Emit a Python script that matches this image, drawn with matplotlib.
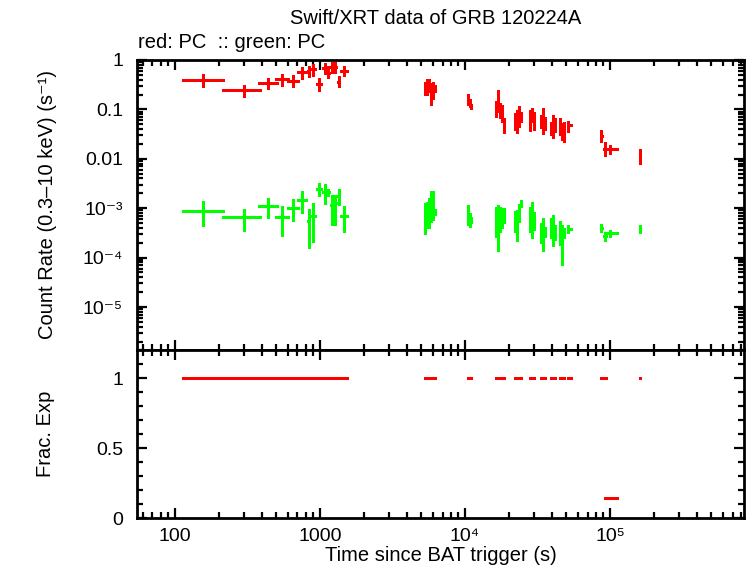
import numpy as np
import matplotlib
matplotlib.use("Agg")
import matplotlib.pyplot as plt
from matplotlib.ticker import LogLocator, FuncFormatter, MultipleLocator, NullFormatter

plt.rcParams['font.family'] = ['Liberation Sans', 'DejaVu Sans']

# time bins (s): centre, start, stop
t_mid = [155, 300, 440, 550, 651, 755, 835, 895, 989, 1083, 1135, 1204, 1268, 1345, 1465,
         5273, 5444, 5621, 5802, 5989, 6181,
         10430, 10750, 11070,
         16360, 16890, 17440, 18000, 18580,
         22230, 22950, 23690, 24460,
         28070, 28980, 29910,
         33430, 34510, 35620,
         39180, 40600, 42100,
         45200, 46700, 48200,
         51730,
         87400, 92800, 100000, 162300]
t_start = [112, 210, 375, 492, 595, 697, 810, 860, 940, 1040, 1110, 1170, 1235, 1305, 1380,
           5190, 5358, 5532, 5711, 5895, 6084,
           10270, 10600, 10910,
           16100, 16620, 17160, 17720, 18290,
           21880, 22590, 23320, 24070,
           27630, 28520, 29440,
           32900, 33960, 35060,
           38570, 39810, 41420,
           44490, 45920, 47410,
           50510,
           85310, 90200, 91650, 159700]
t_stop = [217, 390, 511, 608, 720, 810, 860, 940, 1040, 1110, 1170, 1235, 1305, 1380, 1560,
          5358, 5532, 5711, 5895, 6084, 6280,
          10600, 10910, 11230,
          16620, 17160, 17720, 18290, 18880,
          22590, 23320, 24070, 24850,
          28520, 29440, 30390,
          33960, 35060, 36190,
          39810, 41420, 42760,
          45920, 47410, 48940,
          54430,
          89470, 95350, 113000, 164900]

# count rates (s^-1), red PC
red_rate = [0.389, 0.244, 0.338, 0.408, 0.382, 0.565, 0.608, 0.649, 0.323, 0.680, 0.539, 0.732, 0.712, 0.365, 0.608,
            0.272, 0.299, 0.327, 0.248, 0.272, 0.272,
            0.163, 0.135, 0.118,
            0.107, 0.155, 0.098, 0.085, 0.051,
            0.0586, 0.056, 0.074, 0.0706,
            0.0612, 0.081, 0.056,
            0.0586, 0.0675, 0.051,
            0.0423, 0.051, 0.0488,
            0.0488, 0.0368, 0.0335,
            0.0488,
            0.0292, 0.0159, 0.0159, 0.0115]
red_lo = [0.289, 0.181, 0.256, 0.302, 0.285, 0.413, 0.453, 0.482, 0.240, 0.522, 0.433, 0.546, 0.546, 0.285, 0.475,
          0.196, 0.196, 0.226, 0.123, 0.163, 0.226,
          0.123, 0.112, 0.102,
          0.0705, 0.089, 0.0673, 0.056, 0.0335,
          0.0386, 0.0335, 0.0443, 0.056,
          0.0368, 0.056, 0.0386,
          0.0423, 0.032, 0.0386,
          0.0306, 0.0266, 0.035,
          0.0306, 0.0242, 0.022,
          0.035,
          0.0222, 0.0115, 0.0126, 0.00792]
red_hi = [0.514, 0.313, 0.427, 0.520, 0.498, 0.722, 0.756, 0.842, 0.433, 0.870, 0.756, 0.911, 0.911, 0.475, 0.756,
          0.360, 0.413, 0.413, 0.343, 0.360, 0.313,
          0.206, 0.163, 0.129,
          0.148, 0.248, 0.135, 0.123, 0.0675,
          0.085, 0.098, 0.118, 0.089,
          0.098, 0.107, 0.089,
          0.0775, 0.107, 0.0706,
          0.056, 0.0775, 0.0675,
          0.0675, 0.0535, 0.056,
          0.0586,
          0.0386, 0.0222, 0.0192, 0.0159]

# green PC
green_rate = [8.78e-4, 6.64e-4, 1.12e-3, 6.64e-4, 1.01e-3, 1.47e-3, 5.59e-4, 7.05e-4, 2.48e-3, 2.12e-3, 2.10e-3, 1.18e-3, 1.27e-3, 1.79e-3, 6.95e-4,
              7.39e-4, 7.75e-4, 8.9e-4, 1.12e-3, 9.33e-4, 8.5e-4,
              8.11e-4, 6.14e-4, 5.86e-4,
              5.86e-4, 6.43e-4, 7.05e-4, 6.8e-4, 7.75e-4,
              5.86e-4, 5.33e-4, 8.5e-4, 1.23e-3,
              6.43e-4, 7.75e-4, 5.86e-4,
              3.35e-4, 4.04e-4, 3.35e-4,
              4.04e-4, 4.64e-4, 3.35e-4,
              3.35e-4, 2.92e-4, 3.35e-4,
              3.86e-4,
              4.04e-4, 2.78e-4, 3.2e-4, 3.86e-4]
green_lo = [4.29e-4, 3.40e-4, 6.22e-4, 2.69e-4, 5.41e-4, 8.0e-4, 1.57e-4, 2.04e-4, 1.73e-3, 1.19e-3, 1.8e-3, 4.64e-4, 4.64e-4, 1.18e-3, 3.25e-4,
            3.05e-4, 4.04e-4, 4.04e-4, 5.33e-4, 5.86e-4, 7.39e-4,
            4.64e-4, 4.23e-4, 5.09e-4,
            2.66e-4, 1.38e-4, 3.35e-4, 4.0e-4, 5.09e-4,
            3.35e-4, 2.2e-4, 5.33e-4, 1.07e-3,
            3.35e-4, 2.54e-4, 3.68e-4,
            2.01e-4, 1.38e-4, 2.66e-4,
            2.54e-4, 1.75e-4, 2.31e-4,
            1.83e-4, 7.2e-5, 2.54e-4,
            3.2e-4,
            3.35e-4, 2.2e-4, 2.66e-4, 3.2e-4]
green_hi = [1.37e-3, 9.63e-4, 1.61e-3, 1.09e-3, 1.56e-3, 2.18e-3, 9.77e-4, 1.27e-3, 3.23e-3, 3.13e-3, 2.4e-3, 1.87e-3, 1.87e-3, 2.48e-3, 1.09e-3,
            1.29e-3, 1.35e-3, 1.63e-3, 2.26e-3, 2.26e-3, 9.77e-4,
            1.18e-3, 8.11e-4, 6.73e-4,
            1.07e-3, 1.18e-3, 1.07e-3, 1.0e-3, 1.02e-3,
            8.9e-4, 9.33e-4, 1.23e-3, 1.49e-3,
            1.07e-3, 1.35e-3, 8.5e-4,
            5.09e-4, 6.43e-4, 4.23e-4,
            6.43e-4, 7.39e-4, 4.64e-4,
            5.59e-4, 4.64e-4, 4.04e-4,
            4.64e-4,
            4.86e-4, 3.35e-4, 3.68e-4, 4.64e-4]

# fractional exposure (all 1 except the wide bin near 1e5 s)
frac_exp = [1.0] * 48 + [0.14, 1.0]

t = np.array(t_mid)
xerr = [t - np.array(t_start), np.array(t_stop) - t]

SUP = str.maketrans('0123456789-', '\u2070\u00b9\u00b2\u00b3\u2074\u2075\u2076\u2077\u2078\u2079\u207b')


def yerr(v, lo, hi):
    v = np.array(v)
    return [v - np.array(lo), np.array(hi) - v]


def xfmt(v, pos):
    e = int(round(np.log10(v)))
    if e in (2, 3):
        return '%d' % v
    return '10' + str(e).translate(SUP)


def yfmt(v, pos):
    e = int(round(np.log10(v)))
    if e == 0:
        return '1'
    if e == -1:
        return '0.1'
    if e == -2:
        return '0.01'
    return '10' + str(e).translate(SUP)


def crisp(cont):
    for c in cont[2]:
        c.set_antialiased(False)
        c.set_capstyle('butt')


def style(ax):
    for s in ax.spines.values():
        s.set_linewidth(2)
    ax.tick_params(which='both', direction='in', top=True, right=True, width=1.6, labelsize=14)
    ax.tick_params(which='major', length=7)
    ax.tick_params(which='minor', length=4)
    ax.tick_params(axis='y', pad=10)
    ax.tick_params(axis='x', pad=7)


fig = plt.figure(figsize=(7.46, 5.68), dpi=100)
ax1 = fig.add_axes([0.1836, 0.3838, 0.8137, 0.5106])
ax2 = fig.add_axes([0.1836, 0.088, 0.8137, 0.2958], sharex=ax1)

crisp(ax1.errorbar(t, red_rate, xerr=xerr, yerr=yerr(red_rate, red_lo, red_hi),
                   fmt='none', ecolor='#ff0000', elinewidth=1.9, capsize=0))
crisp(ax1.errorbar(t, green_rate, xerr=xerr, yerr=yerr(green_rate, green_lo, green_hi),
                   fmt='none', ecolor='#00ff00', elinewidth=1.9, capsize=0))
ax1.set_xscale('log')
ax1.set_yscale('log')
ax1.set_xlim(54.7, 8.4e5)
ax1.set_ylim(1.35e-6, 1.0)
ax1.yaxis.set_major_locator(LogLocator(base=10, numticks=12))
ax1.yaxis.set_minor_locator(LogLocator(base=10, subs=np.arange(2, 10), numticks=12))
ax1.yaxis.set_major_formatter(FuncFormatter(yfmt))
ax1.yaxis.set_minor_formatter(NullFormatter())
ax1.set_ylabel('Count Rate (0.3\u201310 keV) (s\u207b\u00b9)', fontsize=14.5, va='center')
ax1.yaxis.set_label_coords(-0.148, 0.5)
ax1.tick_params(labelbottom=False)
style(ax1)

crisp(ax2.errorbar(t, frac_exp, xerr=xerr, fmt='none', ecolor='#ff0000', elinewidth=1.9, capsize=0))
ax2.set_ylim(0, 1.2)
ax2.yaxis.set_major_locator(MultipleLocator(0.5))
ax2.yaxis.set_minor_locator(MultipleLocator(0.1))
ax2.yaxis.set_major_formatter(FuncFormatter(lambda v, p: '%g' % v))
ax2.xaxis.set_major_locator(LogLocator(base=10, numticks=12))
ax2.xaxis.set_minor_locator(LogLocator(base=10, subs=np.arange(2, 10), numticks=12))
ax2.xaxis.set_major_formatter(FuncFormatter(xfmt))
ax2.xaxis.set_minor_formatter(NullFormatter())
ax2.set_ylabel('Frac. Exp', fontsize=14.5, va='center')
ax2.yaxis.set_label_coords(-0.151, 0.5)
ax2.set_xlabel('Time since BAT trigger (s)', fontsize=14.5, va='center')
ax2.xaxis.set_label_coords(0.5, -0.226)
style(ax2)

fig.text(0.584, 1 - 18 / 568, 'Swift/XRT data of GRB 120224A', ha='center', va='center', fontsize=14.5)
fig.text(138 / 746, 1 - 43 / 568, 'red: PC  :: green: PC', ha='left', va='center', fontsize=14.5)

fig.savefig('out.png', dpi=100)
